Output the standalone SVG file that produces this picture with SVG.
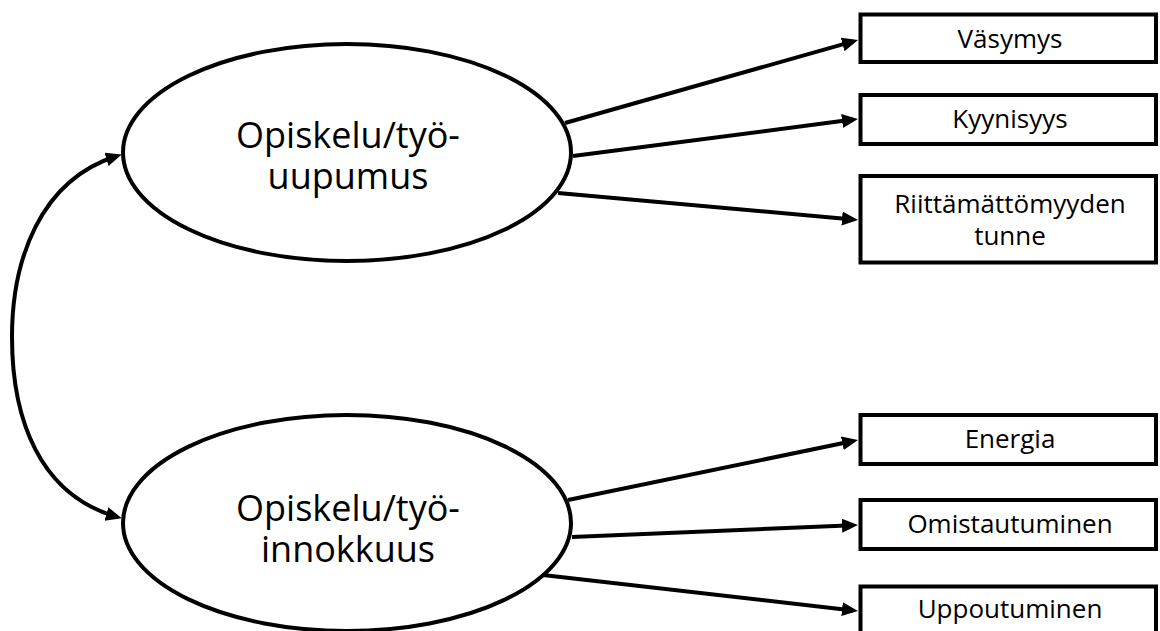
<svg xmlns="http://www.w3.org/2000/svg" width="1160" height="631" viewBox="0 0 1160 631">
  <style>
    .bg { fill: #ffffff; }
    .ell { fill: #ffffff; stroke: #000000; stroke-width: 4; }
    .box { fill: #ffffff; stroke: #000000; stroke-width: 4; }
    .big { font-family: "Open Sans", "Liberation Sans", sans-serif; font-size: 36px; fill: #000000; text-anchor: middle; }
    .small { font-family: "Open Sans", "Liberation Sans", sans-serif; font-size: 26px; fill: #000000; text-anchor: middle; }
    .conn { fill: none; stroke: #000000; stroke-width: 4; }
  </style>
  <defs>
    <marker id="arrow" markerUnits="userSpaceOnUse" markerWidth="18" markerHeight="16" refX="11" refY="7" orient="auto-start-reverse" viewBox="0 0 18 16">
      <path d="M0,0 L16,7 L0,14 z" fill="#000000"/>
    </marker>
  </defs>
  <rect class="bg" x="0" y="0" width="1160" height="631"/>

  <g id="connectors">
    <path class="conn" d="M117,156 C40,180 12,260 12,337 C12,420 40,495 117,517" marker-start="url(#arrow)" marker-end="url(#arrow)"/>
    <line class="conn" x1="565" y1="123" x2="853.2" y2="41.4" marker-end="url(#arrow)"/>
    <line class="conn" x1="573" y1="156" x2="853" y2="119.6" marker-end="url(#arrow)"/>
    <line class="conn" x1="558" y1="193" x2="853" y2="219.5" marker-end="url(#arrow)"/>
    <line class="conn" x1="568" y1="500" x2="853.1" y2="441" marker-end="url(#arrow)"/>
    <line class="conn" x1="572" y1="537" x2="853" y2="525.2" marker-end="url(#arrow)"/>
    <line class="conn" x1="543" y1="575" x2="853" y2="610.4" marker-end="url(#arrow)"/>
  </g>

  <g id="node-uupumus">
    <ellipse class="ell" cx="347" cy="152.5" rx="224" ry="108.5"/>
    <text class="big" x="348" y="148">Opiskelu/työ-</text>
    <text class="big" x="348" y="189">uupumus</text>
  </g>

  <g id="node-innokkuus">
    <ellipse class="ell" cx="347" cy="523" rx="224" ry="108"/>
    <text class="big" x="348" y="521">Opiskelu/työ-</text>
    <text class="big" x="348" y="562">innokkuus</text>
  </g>

  <g id="node-vasymys">
    <rect class="box" x="860.5" y="14.5" width="295.5" height="47.5"/>
    <text class="small" x="1010" y="48">Väsymys</text>
  </g>

  <g id="node-kyynisyys">
    <rect class="box" x="860.5" y="95" width="295.5" height="49"/>
    <text class="small" x="1010" y="128">Kyynisyys</text>
  </g>

  <g id="node-riittamattomyyden">
    <rect class="box" x="860.5" y="176" width="295.5" height="86.5"/>
    <text class="small" x="1010" y="213">Riittämättömyyden</text>
    <text class="small" x="1010" y="245">tunne</text>
  </g>

  <g id="node-energia">
    <rect class="box" x="860.5" y="415" width="295.5" height="49"/>
    <text class="small" x="1010" y="448">Energia</text>
  </g>

  <g id="node-omistautuminen">
    <rect class="box" x="860.5" y="500" width="295.5" height="49"/>
    <text class="small" x="1010" y="533">Omistautuminen</text>
  </g>

  <g id="node-uppoutuminen">
    <rect class="box" x="860.5" y="586.5" width="295.5" height="60"/>
    <text class="small" x="1010" y="618">Uppoutuminen</text>
  </g>
</svg>
